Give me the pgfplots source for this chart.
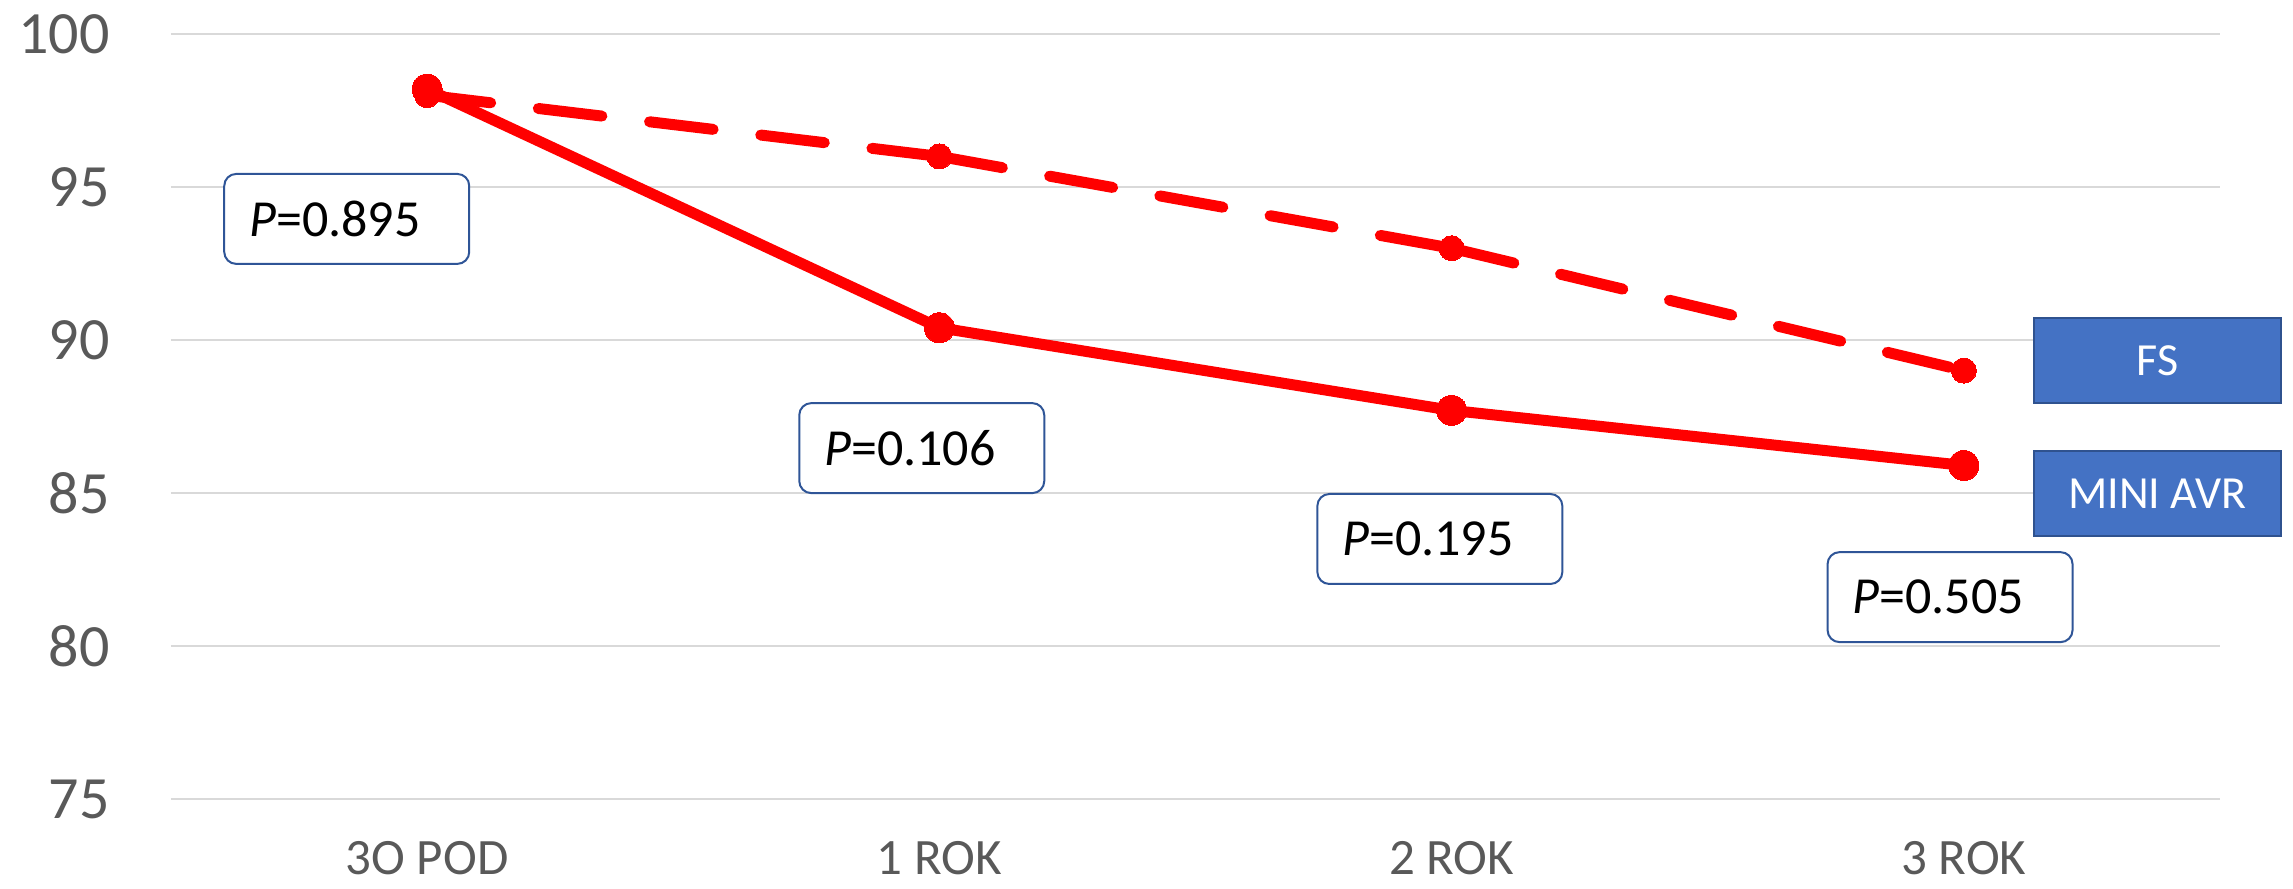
\documentclass[border=0pt]{standalone}
\usepackage{fontspec}
\setmainfont{Carlito}
\usepackage{pgfplots}
\pgfplotsset{compat=1.18}
\definecolor{tickgray}{HTML}{595959}
\definecolor{gridgray}{HTML}{D9D9D9}
\definecolor{boxblue}{HTML}{4472C4}
\definecolor{boxedge}{HTML}{2F528F}
\definecolor{pedge}{HTML}{2F5597}
\begin{document}
\begin{tikzpicture}
\begin{axis}[
  scale only axis,
  width=1024.5pt, height=382.5pt,
  xmin=-0.5, xmax=3.5,
  ymin=75, ymax=100,
  ytick={75,80,...,100},
  xtick={0,1,2,3},
  xticklabels={3O POD,1 ROK,2 ROK,3 ROK},
  /pgf/number format/assume math mode=true,
  axis line style={draw=none},
  major tick length=0pt,
  ymajorgrids,
  grid style={gridgray, line width=1pt},
  yticklabel style={font=\fontsize{30}{36}\selectfont, text=tickgray, anchor=east, inner sep=0pt, xshift=-30.5pt},
  xticklabel style={font=\fontsize{25.5}{30}\selectfont, text=tickgray, anchor=north, inner sep=0pt, yshift=-21pt},
  clip=false,
]
% MINI AVR
\addplot[red, line width=5.5pt, line join=round, mark=*, mark size=7.5pt, mark options={solid, fill=red, draw=red, line width=0pt}]
  coordinates {(0,98.2) (1,90.4) (2,87.7) (3,85.9)};
% FS: dashes restart at every data point
\addplot[red, line width=5.5pt, line cap=round, dash pattern=on 32pt off 24pt] coordinates {(0,98.0) (1,96.0)};
\addplot[red, line width=5.5pt, line cap=round, dash pattern=on 32pt off 24pt] coordinates {(1,96.0) (2,93.0)};
\addplot[red, line width=5.5pt, line cap=round, dash pattern=on 32pt off 24pt] coordinates {(2,93.0) (3,89.0)};
\addplot[only marks, mark=*, mark size=6.25pt, mark options={fill=red, draw=red, line width=0pt}]
  coordinates {(0,98.0) (1,96.0) (2,93.0) (3,89.0)};

% p-value boxes
\tikzset{pbox/.style={draw=pedge, line width=1pt, fill=white, rounded corners=6pt,
  anchor=north west, minimum height=45pt, text width=97.5pt, inner xsep=12.5pt,
  align=left, font=\fontsize{26}{30}\selectfont}}
\node[pbox] at (axis cs:-0.398,95.46) {\textit{P}=0.895};
\node[pbox] at (axis cs:0.7246,87.97) {\textit{P}=0.106};
\node[pbox] at (axis cs:1.736,85.0) {\textit{P}=0.195};
\node[pbox] at (axis cs:2.732,83.1) {\textit{P}=0.505};

% series labels
\tikzset{sbox/.style={draw=boxedge, line width=1pt, fill=boxblue, text=white,
  anchor=north west, minimum height=42.5pt, minimum width=123.5pt, inner sep=0pt,
  font=\fontsize{23}{28}\selectfont}}
\node[sbox] at (axis cs:3.135,90.75) {FS};
\node[sbox] at (axis cs:3.135,86.4) {MINI AVR};
\end{axis}
\pgfresetboundingbox
\path[use as bounding box] (-85.5pt,-45pt) rectangle (1061pt,399.5pt);
\end{tikzpicture}
\end{document}
